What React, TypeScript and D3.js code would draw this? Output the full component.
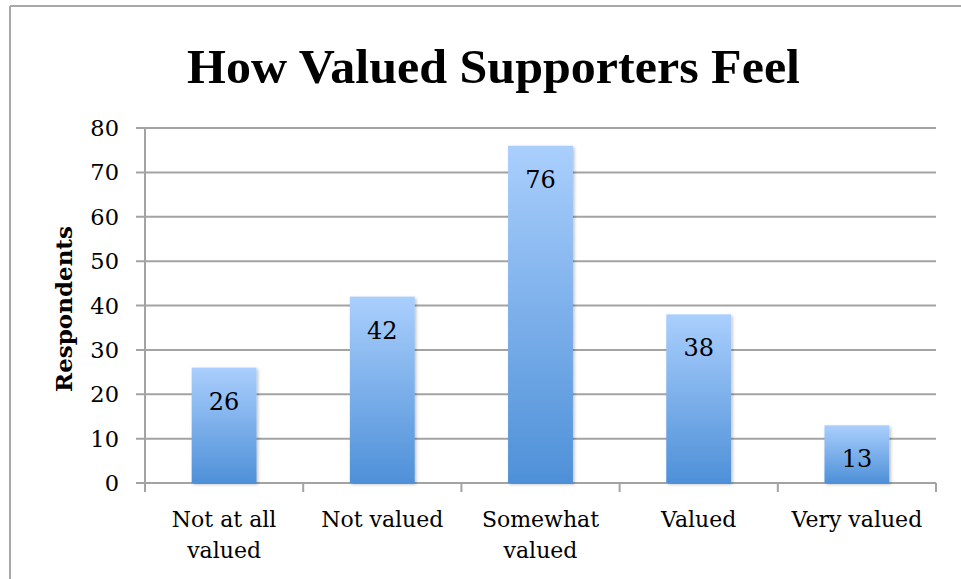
import React from "react";
import * as d3 from "d3";

const categories: string[][] = [
  ["Not at all", "valued"],
  ["Not valued"],
  ["Somewhat", "valued"],
  ["Valued"],
  ["Very valued"],
];
const values: number[] = [26, 42, 76, 38, 13];
const yTicks: number[] = [0, 10, 20, 30, 40, 50, 60, 70, 80];
const title = "How Valued Supporters Feel";
const yTitle = "Respondents";

const W = 961;
const H = 579;
const left = 145;
const right = 936;
const top = 128;
const bottom = 483;
const grid = "#a3a3a3";
const serif = "'DejaVu Serif', serif";

export default function App() {
  const keys = categories.map((_, i) => String(i));
  const x = d3.scaleBand<string>().domain(keys).range([left, right]).paddingInner(0.59).paddingOuter(0.295);
  const y = d3.scaleLinear().domain([0, 80]).range([bottom, top]);
  const step = x.step();
  const boundaries = d3.range(keys.length + 1).map((i) => left + i * step);

  return (
    <svg width={W} height={H} style={{ position: "absolute", left: 0, top: 0, background: "#fff" }}>
      <defs>
        <linearGradient id="barGrad" x1="0" y1="0" x2="0" y2="1">
          <stop offset="0%" stopColor="#aacffd" />
          <stop offset="100%" stopColor="#4e90d8" />
        </linearGradient>
        <filter id="shadow" x="-20%" y="-20%" width="140%" height="140%">
          <feDropShadow dx="1.5" dy="1.5" stdDeviation="1.5" floodColor="#000" floodOpacity="0.25" />
        </filter>
      </defs>
      <rect x={0} y={0} width={W} height={H} fill="#fff" />
      {/* outer border */}
      <line x1={10} y1={6} x2={W} y2={6} stroke="#a8a8a8" strokeWidth={2} />
      <line x1={10} y1={6} x2={10} y2={H} stroke="#a8a8a8" strokeWidth={2} />

      {/* title */}
      <text x={(187 + 800) / 2} y={83} textAnchor="middle" fontFamily="'Liberation Serif', serif" fontWeight="bold" fontSize={48} textLength={613} lengthAdjust="spacingAndGlyphs">
        {title}
      </text>

      {/* gridlines + y ticks */}
      {yTicks.map((t) => (
        <g key={t}>
          <line x1={136} x2={right} y1={y(t)} y2={y(t)} stroke={grid} strokeWidth={2} />
          <text x={119} y={y(t) + 8} textAnchor="end" fontFamily={serif} fontSize={22.5} fill="#000">
            {t}
          </text>
        </g>
      ))}
      {/* y axis line */}
      <line x1={left} x2={left} y1={top} y2={bottom + 9} stroke={grid} strokeWidth={2} />
      {/* x ticks */}
      {boundaries.map((b, i) => (
        <line key={i} x1={b} x2={b} y1={bottom} y2={bottom + 9} stroke={grid} strokeWidth={2} />
      ))}

      {/* bars */}
      {values.map((v, i) => (
        <g key={i}>
          <rect x={x(String(i))} y={y(v)} width={x.bandwidth()} height={y(0) - y(v)} fill="url(#barGrad)" filter="url(#shadow)" />
          <text x={(x(String(i)) as number) + x.bandwidth() / 2} y={y(v) + 42} textAnchor="middle" fontFamily={serif} fontSize={24} fill="#000">
            {v}
          </text>
        </g>
      ))}

      {/* x labels */}
      {categories.map((lines, i) => (
        <text key={i} x={(x(String(i)) as number) + x.bandwidth() / 2} y={527} textAnchor="middle" fontFamily={serif} fontSize={22} fill="#000">
          {lines.map((l, j) => (
            <tspan key={j} x={(x(String(i)) as number) + x.bandwidth() / 2} dy={j === 0 ? 0 : 31}>
              {l}
            </tspan>
          ))}
        </text>
      ))}

      {/* y title */}
      <text transform={`translate(72, 309) rotate(-90)`} textAnchor="middle" fontFamily={serif} fontWeight="bold" fontSize={23} fill="#000">
        {yTitle}
      </text>
    </svg>
  );
}
